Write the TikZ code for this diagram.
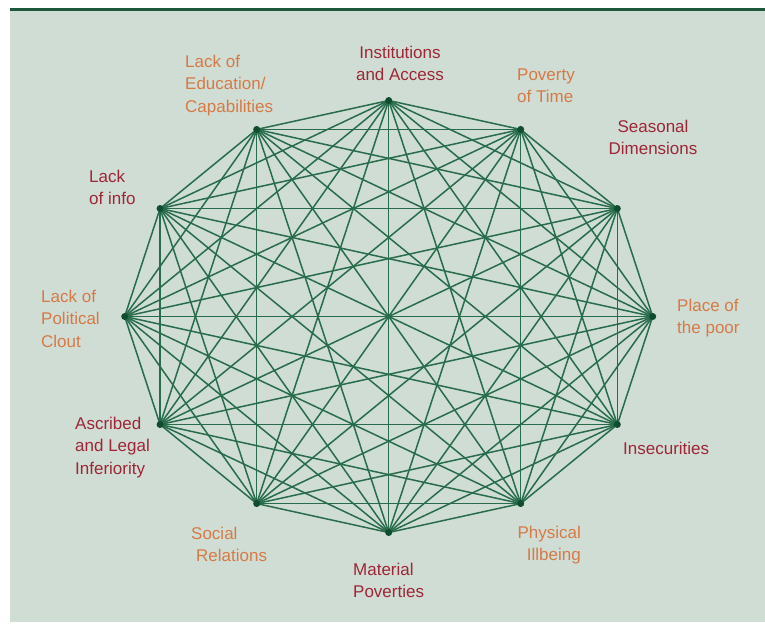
\documentclass[tikz,border=0pt]{standalone}
\usepackage{fontspec}
\setmainfont{Liberation Sans}
\definecolor{panelbg}{RGB}{207,221,212}
\definecolor{barcol}{RGB}{28,88,58}
\definecolor{edgecol}{RGB}{40,108,76}
\definecolor{dotcol}{RGB}{16,76,46}
\definecolor{lblorange}{RGB}{214,122,70}
\definecolor{lblred}{RGB}{158,38,54}
% multi-line label whose baseline is the first line
\newcommand{\lblstack}[2]{\begin{tabular}[t]{@{}#1@{}}#2\end{tabular}}
\begin{document}
\begin{tikzpicture}[x=1pt,y=-1pt,
  edge/.style={draw=edgecol,line width=1.5pt},
  lbl/.style={inner sep=0pt,font=\fontsize{17}{22.5}\selectfont},
  orangelbl/.style={lbl,text=lblorange},
  redlbl/.style={lbl,text=lblred}]
\useasboundingbox (0,0) rectangle (765,627);
\fill[white] (0,0) rectangle (765,627);
\fill[panelbg] (10,8) rectangle (765,622);
\fill[barcol] (10,7.5) rectangle (765,10.5);

% twelve points on an ellipse, clockwise from the top
\foreach \i in {0,...,11}{
  \coordinate (v\i) at ({388.7+264*cos(90-30*\i)},{316.5-216*sin(90-30*\i)});
}
% every point joined to every other one
\foreach \i [evaluate=\i as \n using int(\i+1)] in {0,...,10}{
  \foreach \j in {\n,...,11}{
    \draw[edge] (v\i) -- (v\j);
  }
}
\foreach \i in {0,...,11}{
  \fill[dotcol] (v\i) circle (3.5);
}

% labels
\node[redlbl,anchor=base] (l0) at (400,58) {\lblstack{c}{Institutions\\and Access}};
\node[orangelbl,anchor=base west] (l1) at (517,80) {\lblstack{l}{Poverty\\of Time}};
\node[redlbl,anchor=base] (l2) at (653,132) {\lblstack{c}{Seasonal\\Dimensions}};
\node[orangelbl,anchor=base west] (l3) at (677,311) {\lblstack{l}{Place of\\the poor}};
\node[redlbl,anchor=base west] (l4) at (623,454) {Insecurities};
\node[orangelbl,anchor=base east] (l5) at (581,538) {\lblstack{r}{Physical\\Illbeing}};
\node[redlbl,anchor=base west] (l6) at (353,575) {\lblstack{l}{Material\\Poverties}};
\node[orangelbl,anchor=base west] (l7) at (191,539) {\lblstack{l}{Social\\\hspace{5pt}Relations}};
\node[redlbl,anchor=base west] (l8) at (75,429) {\lblstack{l}{Ascribed\\and Legal\\Inferiority}};
\node[orangelbl,anchor=base west] (l9) at (41,302) {\lblstack{l}{Lack of\\Political\\Clout}};
\node[redlbl,anchor=base west] (l10) at (89,182) {\lblstack{l}{Lack\\of info}};
\node[orangelbl,anchor=base west] (l11) at (185,67) {\lblstack{l}{Lack of\\Education/\\Capabilities}};
\end{tikzpicture}
\end{document}
